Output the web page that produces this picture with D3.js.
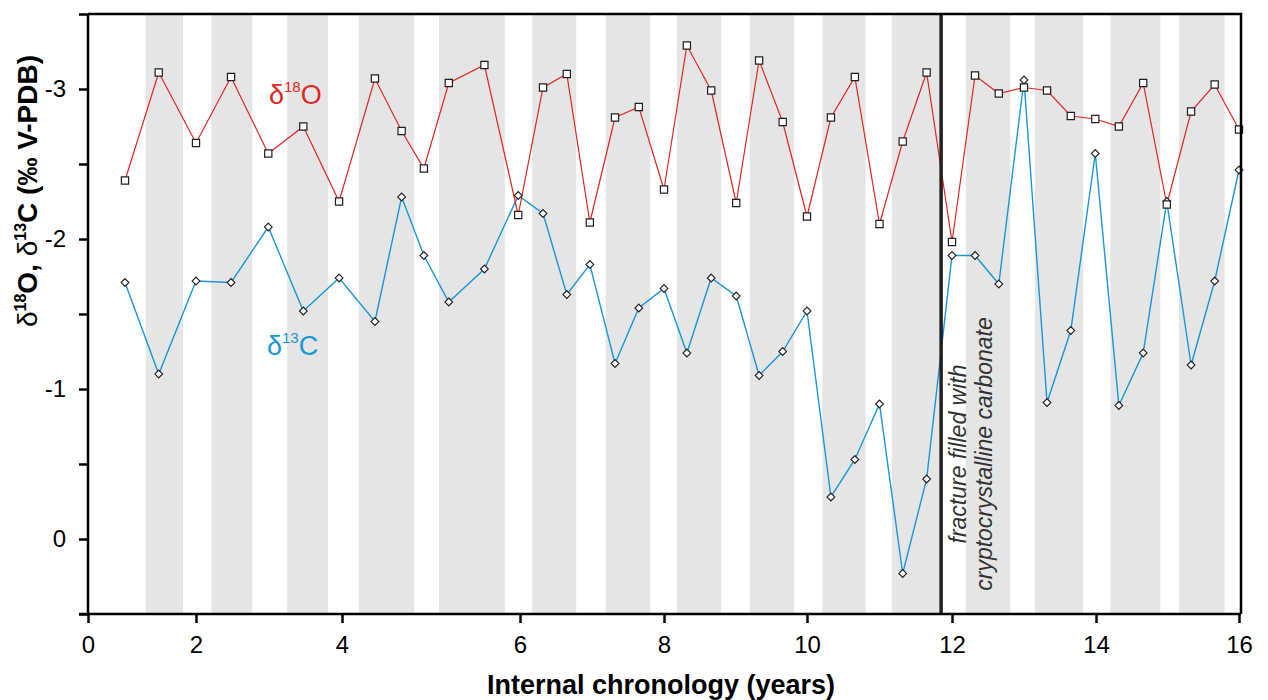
<!DOCTYPE html>
<html>
<head>
<meta charset="utf-8">
<script src="https://cdn.jsdelivr.net/npm/d3@7"></script>
<style>
  body { margin: 0; background: #fff; }
  svg { font-family: "Liberation Sans", Arial, sans-serif; }
</style>
</head>
<body>
<svg width="1268" height="700"></svg>
<script>
// sample positions along the chronology (years)
const years = [0.685, 1.31, 2.0, 2.48, 2.99, 3.47, 3.96, 4.37, 4.67, 4.92, 5.2, 5.6, 5.98,
  6.32, 6.65, 6.97, 7.32, 7.65, 8.0, 8.32, 8.66, 9.01, 9.33, 9.66, 10.0,
  10.33, 10.66, 11.0, 11.32, 11.65, 12.0, 12.32, 12.65, 13.0, 13.32, 13.65, 13.99,
  14.32, 14.66, 14.99, 15.33, 15.66, 16.0];
const d18O = [-2.39, -3.11, -2.64, -3.08, -2.57, -2.75, -2.25, -3.07, -2.72, -2.47, -3.04, -3.16, -2.16,
  -3.01, -3.10, -2.11, -2.81, -2.88, -2.33, -3.29, -2.99, -2.24, -3.19, -2.78, -2.15,
  -2.81, -3.08, -2.10, -2.65, -3.11, -1.98, -3.09, -2.97, -3.01, -2.99, -2.82, -2.80,
  -2.75, -3.04, -2.23, -2.85, -3.03, -2.73];
const d13C = [-1.71, -1.10, -1.72, -1.71, -2.08, -1.52, -1.74, -1.45, -2.28, -1.89, -1.58, -1.80, -2.29,
  -2.17, -1.63, -1.83, -1.17, -1.54, -1.67, -1.24, -1.74, -1.62, -1.09, -1.25, -1.52,
  -0.28, -0.53, -0.90, 0.23, -0.40, -1.89, -1.89, -1.70, -3.06, -0.91, -1.39, -2.57,
  -0.89, -1.24, -2.25, -1.16, -1.72, -2.46];
// shaded growth bands (years)
const bandStart = [1.07, 2.21, 3.25, 4.19, 5.09, 6.17, 7.19, 8.18, 9.2, 10.21, 11.17, 12.19, 13.15, 14.2, 15.16];
const bandEnd = [1.76, 2.77, 3.81, 4.81, 5.83, 6.78, 7.81, 8.8, 9.82, 10.81, 11.85, 12.81, 13.82, 14.9, 15.8];
const fractureYear = 11.85;
const xTicks = [0, 2, 4, 6, 8, 10, 12, 14, 16];
const yTicks = [-3.5, -3, -2.5, -2, -1.5, -1, -0.5, 0, 0.5];

const red = "#e1251f";
const blue = "#1896da";

const svg = d3.select("svg");
const plotLeft = 88, plotRight = 1241, plotTop = 14, plotBottom = 614;

// the published time axis is stretched unevenly between labelled years
const x = d3.scaleLinear()
  .domain(xTicks)
  .range([88, 196, 342, 520, 664, 807, 952, 1096, 1239]);
const y = d3.scaleLinear().domain([-3.5, 0.5]).range([plotTop, plotBottom]);

// grey bands
svg.append("g")
  .selectAll("rect")
  .data(bandStart)
  .join("rect")
  .attr("x", (d) => x(d))
  .attr("y", plotTop)
  .attr("width", (d, i) => x(bandEnd[i]) - x(d))
  .attr("height", plotBottom - plotTop)
  .attr("fill", "#e5e5e5");

const points = years.map((yr, i) => ({ yr: yr, o: d18O[i], c: d13C[i] }));

const lineO = d3.line().x((d) => x(d.yr)).y((d) => y(d.o));
const lineC = d3.line().x((d) => x(d.yr)).y((d) => y(d.c));

svg.append("path")
  .datum(points)
  .attr("d", lineC)
  .attr("fill", "none")
  .attr("stroke", blue)
  .attr("stroke-width", 1.4);

svg.append("path")
  .datum(points)
  .attr("d", lineO)
  .attr("fill", "none")
  .attr("stroke", red)
  .attr("stroke-width", 1.2);

// fracture marker
svg.append("line")
  .attr("x1", x(fractureYear))
  .attr("x2", x(fractureYear))
  .attr("y1", plotTop)
  .attr("y2", plotBottom)
  .attr("stroke", "#231f20")
  .attr("stroke-width", 3.5);

// diamonds for d13C
svg.append("g")
  .selectAll("path")
  .data(points)
  .join("path")
  .attr("transform", (d) => "translate(" + x(d.yr) + "," + y(d.c) + ") rotate(45)")
  .attr("d", d3.symbol(d3.symbolSquare, 30))
  .attr("fill", "#fff")
  .attr("stroke", "#231f20")
  .attr("stroke-width", 1.1);

// squares for d18O
svg.append("g")
  .selectAll("path")
  .data(points)
  .join("path")
  .attr("transform", (d) => "translate(" + x(d.yr) + "," + y(d.o) + ")")
  .attr("d", d3.symbol(d3.symbolSquare, 52))
  .attr("fill", "#fff")
  .attr("stroke", "#231f20")
  .attr("stroke-width", 1.2);

// frame top + right
svg.append("path")
  .attr("d", "M" + plotLeft + "," + plotTop + "H" + plotRight + "V" + plotBottom)
  .attr("fill", "none")
  .attr("stroke", "#000")
  .attr("stroke-width", 2.5);

// axes
const yAxis = svg.append("g")
  .attr("transform", "translate(" + plotLeft + ",0)")
  .call(d3.axisLeft(y).tickValues(yTicks).tickSize(9).tickSizeOuter(0).tickPadding(13)
    .tickFormat((d) => Number.isInteger(d) ? String(d) : ""));
const xAxis = svg.append("g")
  .attr("transform", "translate(0," + plotBottom + ")")
  .call(d3.axisBottom(x).tickValues(xTicks).tickSize(9).tickSizeOuter(0)
    .tickFormat((d) => String(d)));

[yAxis, xAxis].forEach((ax) => {
  ax.select(".domain").attr("stroke-width", 2.5);
  ax.selectAll(".tick line").attr("stroke-width", 2.5);
  ax.selectAll("text").attr("font-size", 24).attr("font-family", "Liberation Sans, Arial, sans-serif").attr("fill", "#000");
});
xAxis.selectAll("text").attr("y", 39).attr("dy", 0);
yAxis.select(".domain").attr("d", "M0," + plotTop + "V" + plotBottom);
xAxis.select(".domain").attr("d", "M" + (plotLeft - 9) + ",0H" + plotRight);

// axis titles
svg.append("text")
  .attr("x", 661)
  .attr("y", 694)
  .attr("text-anchor", "middle")
  .attr("font-size", 27)
  .attr("font-weight", "bold")
  .text("Internal chronology (years)");

const yTitle = svg.append("text")
  .attr("transform", "translate(37,191) rotate(-90)")
  .attr("text-anchor", "middle")
  .attr("font-size", 28)
  .attr("font-weight", "bold");
yTitle.append("tspan").attr("font-weight", "normal").text("δ");
yTitle.append("tspan").attr("font-size", 16).attr("dy", -11).text("18");
yTitle.append("tspan").attr("dy", 11).text("O, ");
yTitle.append("tspan").attr("font-weight", "normal").text("δ");
yTitle.append("tspan").attr("font-size", 16).attr("dy", -11).text("13");
yTitle.append("tspan").attr("dy", 11).text("C (‰ V-PDB)");

// series labels
function seriesLabel(px, py, iso, el, color) {
  const t = svg.append("text")
    .attr("x", px)
    .attr("y", py)
    .attr("font-size", 27)
    .attr("fill", color);
  t.append("tspan").text("δ");
  t.append("tspan").attr("font-size", 15).attr("dy", -12).text(iso);
  t.append("tspan").attr("dy", 12).text(el);
}
seriesLabel(269, 104, "18", "O", red);
seriesLabel(267, 355, "13", "C", blue);

// fracture note
const note = svg.append("text")
  .attr("transform", "translate(966,454) rotate(-90)")
  .attr("text-anchor", "middle")
  .attr("font-size", 23)
  .attr("font-style", "italic")
  .attr("fill", "#333");
note.append("tspan").attr("x", 0).attr("y", 0).text("fracture filled with");
note.append("tspan").attr("x", 0).attr("y", 26).text("cryptocrystalline carbonate");
</script>
</body>
</html>
